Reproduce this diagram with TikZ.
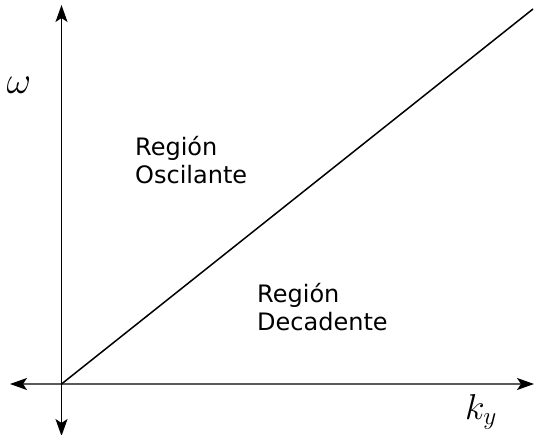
\RequirePackage{fix-cm}
\documentclass[tikz,border=0pt]{standalone}
\usepackage{fontspec}
\setmainfont{DejaVu Sans}
\usetikzlibrary{arrows.meta}
\begin{document}
\begin{tikzpicture}[x=1pt,y=-1pt,
  axis/.style={line width=1.6pt,{Stealth[length=17pt,width=12pt,inset=4pt,color=black]}-{Stealth[length=17pt,width=12pt,inset=4pt,color=black]}},
  lbl/.style={font=\fontsize{24}{28}\selectfont,align=left,anchor=base west,inner sep=0pt},
  mlbl/.style={inner sep=0pt}]
\useasboundingbox (0,0) rectangle (534,435);
\coordinate (o) at (61.5,384);
\coordinate (l) at (10,384);
\coordinate (r) at (534,384);
\coordinate (t) at (61.5,5);
\coordinate (b) at (61.5,436);
\coordinate (d) at (533,9);
\draw[axis,draw={rgb,255:red,90;green,90;blue,90}] (l) -- (r);
\draw[axis] (b) -- (t);
\draw[line width=1.5pt] (o) -- (d);
\node[mlbl,font=\fontsize{38}{42}\selectfont] (w) at (19,85) {$\omega$};
\node[mlbl,font=\fontsize{36}{40}\selectfont] (k) at (481,412) {$k_y$};
\node[lbl] (osc) at (135,184) {Región\\Oscilante};
\node[lbl] (dec) at (257,330) {Región\\Decadente};
\end{tikzpicture}
\end{document}
